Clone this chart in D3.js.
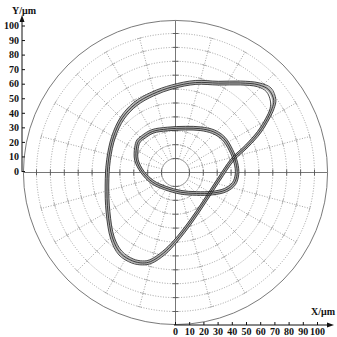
<!DOCTYPE html>
<html>
<head>
<meta charset="utf-8">
<script src="https://cdn.jsdelivr.net/npm/d3@7"></script>
<style>
  body { margin: 0; background: #fff; }
  svg { display: block; }
  text { font-family: "Liberation Serif", "Times New Roman", serif; font-weight: bold; font-size: 10px; fill: #111; }
</style>
</head>
<body>
<svg id="chart"></svg>
<script>
// polar grid: rings every 10 um, spokes every 15 deg
const ringValues = [10, 20, 30, 40, 50, 60, 70, 80, 90, 100];
const spokeAngles = [15, 30, 45, 60, 75, 105, 120, 135, 150, 165, 195, 210, 225, 240, 255, 285, 300, 315, 330, 345];
const boundaryRadius = 109.4;

// side axes
const yTicks = [0, 10, 20, 30, 40, 50, 60, 70, 80, 90, 100];
const xTicks = [0, 10, 20, 30, 40, 50, 60, 70, 80, 90, 100];

// orbit, big loop - three revolutions (x, y in um)
const outerCycle1 = [[70.7,51.9],[67.1,59.5],[59.7,63.1],[46.8,64.4],[30.9,64.3],[14.4,64.7],[-2.2,61.6],[-16.5,56.4],[-28.8,49.3],[-38.2,39.3],[-44.6,25.6],[-48.2,9.0],[-49.3,-9.0],[-48.6,-28.4],[-45.3,-47.1],[-39.6,-58.0],[-30.9,-63.6],[-23.7,-65.1],[-17.9,-64.1],[-8.6,-58.0],[0,-49.3],[10.8,-35.6],[21.5,-19.8],[30.9,-5.4],[41.0,9.3],[51.4,19.1],[60.1,29.0],[66.2,38.8],[69.4,45.9]];
const outerCycle2 = [[72.2,52.5],[68.7,60.8],[60.1,64.5],[46.8,65.8],[30.9,65.6],[14.2,66.2],[-2.6,63.0],[-17.5,57.7],[-30.0,50.4],[-39.4,40.0],[-45.9,26.0],[-49.5,9.2],[-50.6,-9.0],[-49.9,-28.6],[-46.6,-47.9],[-40.7,-59.3],[-31.5,-65.1],[-23.7,-66.5],[-17.3,-65.4],[-7.5,-59.0],[1.2,-49.9],[11.8,-36.3],[22.5,-20.4],[32.0,-5.9],[42.1,8.7],[52.5,18.6],[61.2,28.4],[67.4,38.5],[70.9,45.9]];
const outerCycle3 = [[68.3,51.4],[65.4,58.2],[59.0,61.7],[46.6,63.0],[30.8,62.9],[14.7,63.4],[-1.7,60.3],[-15.6,55.2],[-27.7,48.2],[-37.0,38.4],[-43.3,25.2],[-46.9,8.7],[-48.0,-9.0],[-47.2,-28.2],[-44.1,-46.4],[-38.6,-56.6],[-30.4,-62.2],[-23.7,-63.6],[-18.5,-62.8],[-9.5,-56.9],[-1.1,-48.7],[9.8,-35.0],[20.6,-19.2],[30.0,-4.8],[40.0,9.8],[50.3,19.7],[59.0,29.5],[65.0,39.1],[68.0,45.9]];

// orbit, small inner loop - three revolutions
const innerCycle1 = [[-23.1,25.6],[-16.5,29.5],[-5.8,31.3],[7.2,31.9],[17.9,31.5],[27.3,29.3],[34.6,24.5],[39.9,16.2],[43.5,6.9],[44.3,-1.1],[42.1,-7.9],[36.1,-12.6],[26.6,-14.8],[15.1,-15.1],[3.6,-14.2],[-7.2,-11.2],[-16.5,-6.9],[-23.7,0.3],[-28.1,9.0],[-28.1,17.6],[-26.6,22.6]];
const innerCycle2 = [[-24.3,26.5],[-17.1,30.8],[-5.8,32.6],[7.2,33.2],[18.2,32.8],[28.0,30.6],[35.6,25.4],[41.1,16.6],[44.7,7.1],[45.5,-1.3],[43.2,-8.7],[36.7,-13.8],[26.7,-16.1],[15.1,-16.4],[3.4,-15.5],[-7.8,-12.4],[-17.4,-7.9],[-24.9,-0.1],[-29.4,8.9],[-29.4,17.9],[-27.8,23.4]];
const innerCycle3 = [[-21.9,24.7],[-16.0,28.3],[-5.8,30.0],[7.2,30.6],[17.7,30.2],[26.7,28.0],[33.5,23.6],[38.7,15.7],[42.2,6.7],[43.0,-1.0],[41.0,-7.1],[35.4,-11.4],[26.5,-13.5],[15.1,-13.8],[3.8,-12.9],[-6.7,-10.0],[-15.6,-5.9],[-22.5,0.7],[-26.8,9.1],[-26.8,17.3],[-25.4,21.9]];

const W = 337, H = 337;
const cx = 175.5, cy = 172.5;

const svg = d3.select("#chart")
    .attr("width", W)
    .attr("height", H);

// polar scales (um -> px)
const r = d3.scaleLinear().domain([0, 100]).range([0, 139]);
const x = d3.scaleLinear().domain([0, 100]).range([cx, cx + 139]);
const y = d3.scaleLinear().domain([0, 100]).range([cy, cy - 139]);

const grid = svg.append("g");

// dotted rings
grid.selectAll("circle.ring")
    .data(ringValues)
    .join("circle")
    .attr("class", "ring")
    .attr("cx", cx).attr("cy", cy)
    .attr("r", d => r(d))
    .style("fill", "none")
    .style("stroke", "#8a8a8a")
    .style("stroke-width", 0.8)
    .style("stroke-dasharray", "1,1.6");

// spokes
const rad = a => a * Math.PI / 180;
grid.selectAll("line.spoke")
    .data(spokeAngles)
    .join("line")
    .attr("class", "spoke")
    .attr("x1", a => cx + r(10) * Math.cos(rad(a)))
    .attr("y1", a => cy - r(10) * Math.sin(rad(a)))
    .attr("x2", a => cx + r(100) * Math.cos(rad(a)))
    .attr("y2", a => cy - r(100) * Math.sin(rad(a)))
    .style("stroke", "#8a8a8a")
    .style("stroke-width", 0.8)
    .style("stroke-dasharray", "1,1.6");

// little cross ticks where spokes meet rings
const crossings = [];
spokeAngles.forEach(a => ringValues.forEach(v => crossings.push({ a, v })));
grid.selectAll("line.cross")
    .data(crossings)
    .join("line")
    .attr("class", "cross")
    .attr("x1", d => cx + r(d.v) * Math.cos(rad(d.a)) - 2.5 * Math.sin(rad(d.a)))
    .attr("y1", d => cy - r(d.v) * Math.sin(rad(d.a)) - 2.5 * Math.cos(rad(d.a)))
    .attr("x2", d => cx + r(d.v) * Math.cos(rad(d.a)) + 2.5 * Math.sin(rad(d.a)))
    .attr("y2", d => cy - r(d.v) * Math.sin(rad(d.a)) + 2.5 * Math.cos(rad(d.a)))
    .style("stroke", "#a0a0a0")
    .style("stroke-width", 0.7);

// boundary circle
grid.append("circle")
    .attr("cx", cx).attr("cy", cy)
    .attr("r", r(boundaryRadius))
    .style("fill", "none")
    .style("stroke", "#7a7a7a")
    .style("stroke-width", 1);

// solid cross through centre
const R = r(boundaryRadius);
grid.append("line")
    .attr("x1", cx - R).attr("x2", cx + R)
    .attr("y1", cy).attr("y2", cy)
    .style("stroke", "#777").style("stroke-width", 1);
grid.append("line")
    .attr("x1", cx).attr("x2", cx)
    .attr("y1", cy - R).attr("y2", cy + R)
    .style("stroke", "#777").style("stroke-width", 1);

// ticks on the cross
const signedRings = ringValues.concat(ringValues.map(v => -v));
grid.selectAll("line.htick")
    .data(signedRings)
    .join("line")
    .attr("x1", d => x(d)).attr("x2", d => x(d))
    .attr("y1", cy - 3).attr("y2", cy + 3)
    .style("stroke", "#555").style("stroke-width", 0.9);
grid.selectAll("line.vtick")
    .data(signedRings)
    .join("line")
    .attr("y1", d => y(d)).attr("y2", d => y(d))
    .attr("x1", cx - 3).attr("x2", cx + 3)
    .style("stroke", "#555").style("stroke-width", 0.9);

// orbit traces
const line = d3.line()
    .x(d => x(d[0]))
    .y(d => y(d[1]))
    .curve(d3.curveCatmullRomClosed.alpha(0.5));

const orbit = svg.append("g");
[outerCycle1, innerCycle1].forEach(c => {
    orbit.append("path")
        .attr("d", line(c))
        .style("fill", "none")
        .style("stroke", "#b4b4b4")
        .style("stroke-width", 3.6);
});
[outerCycle2, outerCycle3, outerCycle1, innerCycle2, innerCycle3, innerCycle1].forEach(c => {
    orbit.append("path")
        .attr("d", line(c))
        .style("fill", "none")
        .style("stroke", "#1c1c1c")
        .style("stroke-width", 0.8);
});

// left Y axis
const yAxisScale = d3.scaleLinear().domain([0, 100]).range([171, 25.5]);
const yAxisG = svg.append("g")
    .attr("transform", "translate(22,0)")
    .call(d3.axisLeft(yAxisScale).tickValues(yTicks).tickSize(-3).tickPadding(3));
yAxisG.select(".domain").remove();
yAxisG.selectAll(".tick line").style("stroke", "#111");
yAxisG.selectAll(".tick text")
    .style("font-family", "'Liberation Serif', serif")
    .style("font-weight", "bold")
    .style("font-size", "10px")
    .style("fill", "#111");
svg.append("line")
    .attr("x1", 22).attr("x2", 22)
    .attr("y1", 172).attr("y2", 20)
    .style("stroke", "#111").style("stroke-width", 1);
svg.append("path")
    .attr("d", "M22,15 L19.5,22 L24.5,22 Z")
    .style("fill", "#111");
svg.append("text")
    .attr("x", 12).attr("y", 14)
    .text("Y/μm");

// bottom X axis
const xAxisScale = d3.scaleLinear().domain([0, 100]).range([175, 317]);
const xAxisG = svg.append("g")
    .attr("transform", "translate(0,325)")
    .call(d3.axisBottom(xAxisScale).tickValues(xTicks).tickSize(-3).tickPadding(3));
xAxisG.select(".domain").remove();
xAxisG.selectAll(".tick line").style("stroke", "#111");
xAxisG.selectAll(".tick text")
    .style("font-family", "'Liberation Serif', serif")
    .style("font-weight", "bold")
    .style("font-size", "10px")
    .style("fill", "#111");
svg.append("line")
    .attr("x1", 174).attr("x2", 328)
    .attr("y1", 325).attr("y2", 325)
    .style("stroke", "#111").style("stroke-width", 1);
svg.append("path")
    .attr("d", "M334,325 L327,322.5 L327,327.5 Z")
    .style("fill", "#111");
svg.append("text")
    .attr("x", 335).attr("y", 315)
    .style("text-anchor", "end")
    .text("X/μm");
</script>
</body>
</html>
